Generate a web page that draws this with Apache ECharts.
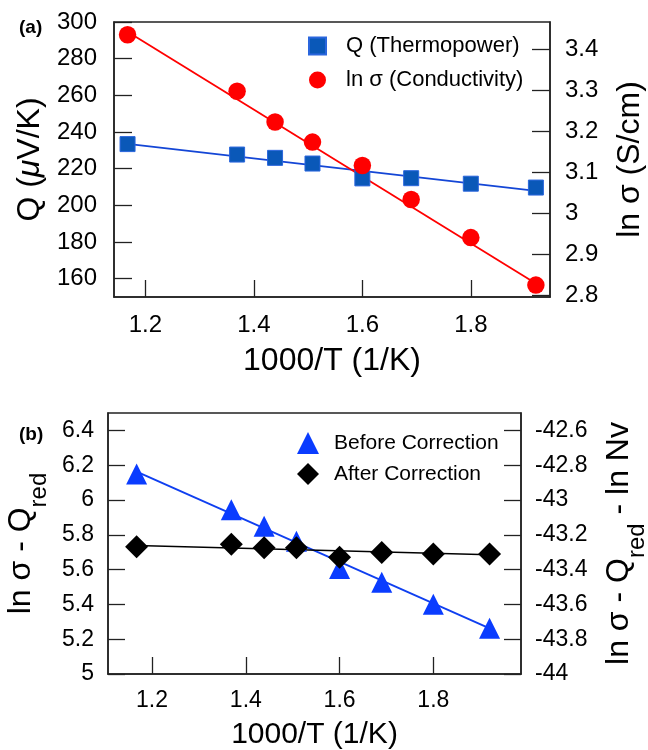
<!DOCTYPE html>
<html>
<head>
<meta charset="utf-8">
<script src="https://cdn.jsdelivr.net/npm/echarts@6/dist/echarts.min.js"></script>
<style>html,body{margin:0;padding:0;background:#fff}#c{width:648px;height:750px}</style>
</head>
<body>
<div id="c"></div>
<script>
// ---- data ----
var invT = [1.167, 1.369, 1.439, 1.508, 1.600, 1.690, 1.800, 1.920];
var thermopower = [233.4, 227.7, 225.9, 222.8, 214.7, 214.8, 211.8, 209.7];
var lnSigma = [3.436, 3.298, 3.223, 3.174, 3.117, 3.034, 2.941, 2.825];
var beforeCorr = [6.150, 5.944, 5.849, 5.763, 5.607, 5.528, 5.401, 5.263];
var afterCorr = [5.732, 5.746, 5.725, 5.725, 5.671, 5.698, 5.689, 5.689];
var fitX = [1.167, 1.920];
var fitQ = [233.5, 207.9];
var fitSigma = [3.443, 2.829];
var fitBefore = [6.163, 5.262];
var fitAfter = [5.738, 5.686];
var xTicks = [1.2, 1.4, 1.6, 1.8];
var qTicks = [160, 180, 200, 220, 240, 260, 280, 300];
var sigmaTicks = [2.8, 2.9, 3.0, 3.1, 3.2, 3.3, 3.4];

function pairs(xs, ys) { return xs.map(function (x, i) { return [x, ys[i]]; }); }

var FONT = 'Liberation Sans, Arial, Helvetica, sans-serif';
var AX = '#222';
var chart = echarts.init(document.getElementById('c'), null, {renderer: 'canvas'});

function xAxisDef(gi, min, max, fs, margin, nameFs, nameGap) {
  return {
    type: 'value', gridIndex: gi, min: min, max: max,
    name: '1000/T (1/K)', nameLocation: 'middle', nameGap: nameGap,
    nameTextStyle: {fontSize: nameFs, color: '#000', fontFamily: FONT},
    axisLine: {show: true, onZero: false, lineStyle: {color: AX, width: 1.5}},
    axisTick: {show: true, inside: true, length: 17, customValues: xTicks, lineStyle: {color: AX, width: 1.3}},
    axisLabel: {show: true, customValues: xTicks, fontSize: fs, margin: margin, color: '#000', fontFamily: FONT,
      formatter: function (v) { return String(+v.toFixed(2)); }},
    splitLine: {show: false}
  };
}

var subRich = {
  a: {fontSize: 32, lineHeight: 32, verticalAlign: 'top', fontFamily: FONT},
  s: {fontSize: 24, lineHeight: 24, verticalAlign: 'top', padding: [22, 0, 0, 0], fontFamily: FONT}
};

var option = {
  animation: false,
  backgroundColor: '#fff',
  textStyle: {fontFamily: FONT},
  title: [
    {text: '(a)', left: 14, top: 13, textStyle: {fontSize: 19, fontWeight: 'bold', color: '#000', fontFamily: FONT}},
    {text: '(b)', left: 14, top: 420, textStyle: {fontSize: 19, fontWeight: 'bold', color: '#000', fontFamily: FONT}}
  ],
  grid: [
    {left: 114, top: 22, width: 436, height: 275, show: true, borderColor: AX, borderWidth: 1.5, backgroundColor: 'transparent',
      containLabel: false, outerBoundsMode: 'none'},
    {left: 108, top: 413, width: 413, height: 261, show: true, borderColor: AX, borderWidth: 1.5, backgroundColor: 'transparent',
      containLabel: false, outerBoundsMode: 'none'}
  ],
  legend: [
    {orient: 'vertical', left: 303, top: 30, itemWidth: 17, itemHeight: 17, itemGap: 12,
      data: ['Q (Thermopower)', 'ln σ (Conductivity)'],
      textStyle: {fontSize: 22, lineHeight: 22, color: '#000', fontFamily: FONT, padding: [0, 0, 0, 15]}},
    {orient: 'vertical', left: 292, top: 427, itemWidth: 22, itemHeight: 22, itemGap: 9,
      data: ['Before Correction', 'After Correction'],
      textStyle: {fontSize: 21, lineHeight: 21, color: '#000', fontFamily: FONT, padding: [0, 0, 0, 10]}}
  ],
  xAxis: [
    xAxisDef(0, 1.142, 1.946, 24, 16, 32, 48),
    xAxisDef(1, 1.106, 1.987, 23, 15, 30, 46)
  ],
  yAxis: [
    {type: 'value', gridIndex: 0, position: 'left', min: 150, max: 300,
      name: '{a|Q (}{m|μ}{a|V/K)}', nameLocation: 'middle', nameRotate: 90, nameGap: 65,
      nameTextStyle: {color: '#000', fontFamily: FONT, rich: {a: {fontSize: 32, fontFamily: FONT}, m: {fontSize: 32, fontStyle: 'italic', fontFamily: FONT}}},
      axisLine: {show: true, lineStyle: {color: AX, width: 1.5}},
      axisTick: {show: true, inside: true, length: 18, customValues: qTicks, lineStyle: {color: AX, width: 1.3}},
      axisLabel: {customValues: qTicks, fontSize: 24, margin: 17, color: '#000', fontFamily: FONT},
      splitLine: {show: false}},
    {type: 'value', gridIndex: 0, position: 'right', min: 2.796, max: 3.467,
      name: 'ln σ (S/cm)', nameLocation: 'middle', nameRotate: 90, nameGap: 64,
      nameTextStyle: {fontSize: 32, color: '#000', fontFamily: FONT},
      axisLine: {show: true, lineStyle: {color: AX, width: 1.5}},
      axisTick: {show: true, inside: true, length: 18, customValues: sigmaTicks, lineStyle: {color: AX, width: 1.3}},
      axisLabel: {customValues: sigmaTicks, fontSize: 24, margin: 15, color: '#000', fontFamily: FONT,
        formatter: function (v) { return String(+v.toFixed(2)); }},
      splitLine: {show: false}},
    {type: 'value', gridIndex: 1, position: 'left', min: 5, max: 6.5, interval: 0.2,
      name: '{a|ln σ - Q}{s|red}', nameLocation: 'middle', nameRotate: 90, nameGap: 55,
      nameTextStyle: {color: '#000', fontFamily: FONT, rich: subRich},
      axisLine: {show: true, lineStyle: {color: AX, width: 1.5}},
      axisTick: {show: true, inside: true, length: 17, lineStyle: {color: AX, width: 1.3}},
      axisLabel: {fontSize: 23, margin: 14, color: '#000', fontFamily: FONT,
        formatter: function (v) { return String(+v.toFixed(2)); }},
      splitLine: {show: false}},
    {type: 'value', gridIndex: 1, position: 'right', min: -44, max: -42.5, interval: 0.2,
      name: '{a|ln σ - Q}{s|red}{a| - ln Nv}', nameLocation: 'middle', nameRotate: 90, nameGap: 82,
      nameTextStyle: {color: '#000', fontFamily: FONT, rich: subRich},
      axisLine: {show: true, lineStyle: {color: AX, width: 1.5}},
      axisTick: {show: true, inside: true, length: 17, lineStyle: {color: AX, width: 1.3}},
      axisLabel: {fontSize: 23, margin: 14, color: '#000', fontFamily: FONT,
        formatter: function (v) { return String(+v.toFixed(2)); }},
      splitLine: {show: false}}
  ],
  series: [
    {type: 'line', name: 'fitQ', xAxisIndex: 0, yAxisIndex: 0, data: pairs(fitX, fitQ), showSymbol: false, symbol: 'none',
      lineStyle: {color: '#1446d6', width: 1.8}, z: 2, silent: true},
    {type: 'line', name: 'fitSigma', xAxisIndex: 0, yAxisIndex: 1, data: pairs(fitX, fitSigma), showSymbol: false, symbol: 'none',
      lineStyle: {color: '#ff0000', width: 1.8}, z: 2, silent: true},
    {type: 'scatter', name: 'Q (Thermopower)', xAxisIndex: 0, yAxisIndex: 0, data: pairs(invT, thermopower),
      symbol: 'rect', symbolSize: 15, itemStyle: {color: '#0a58b8', borderColor: '#2a66dd', borderWidth: 1, opacity: 1}, z: 3},
    {type: 'scatter', name: 'ln σ (Conductivity)', xAxisIndex: 0, yAxisIndex: 1, data: pairs(invT, lnSigma),
      symbol: 'circle', symbolSize: 17.5, itemStyle: {color: '#ff0000', opacity: 1}, z: 4},
    {type: 'line', name: 'fitBefore', xAxisIndex: 1, yAxisIndex: 2, data: pairs(fitX, fitBefore), showSymbol: false, symbol: 'none',
      lineStyle: {color: '#0f3ff0', width: 1.8}, z: 2, silent: true},
    {type: 'line', name: 'fitAfter', xAxisIndex: 1, yAxisIndex: 2, data: pairs(fitX, fitAfter), showSymbol: false, symbol: 'none',
      lineStyle: {color: '#000', width: 1.5}, z: 2, silent: true},
    {type: 'scatter', name: 'Before Correction', xAxisIndex: 1, yAxisIndex: 2, data: pairs(invT, beforeCorr),
      symbol: 'triangle', symbolSize: [21, 21], itemStyle: {color: '#0a3cff', opacity: 1}, z: 3},
    {type: 'scatter', name: 'After Correction', xAxisIndex: 1, yAxisIndex: 2, data: pairs(invT, afterCorr),
      symbol: 'diamond', symbolSize: [23, 23], itemStyle: {color: '#000', opacity: 1}, z: 4}
  ]
};
chart.setOption(option);
</script>
</body>
</html>
